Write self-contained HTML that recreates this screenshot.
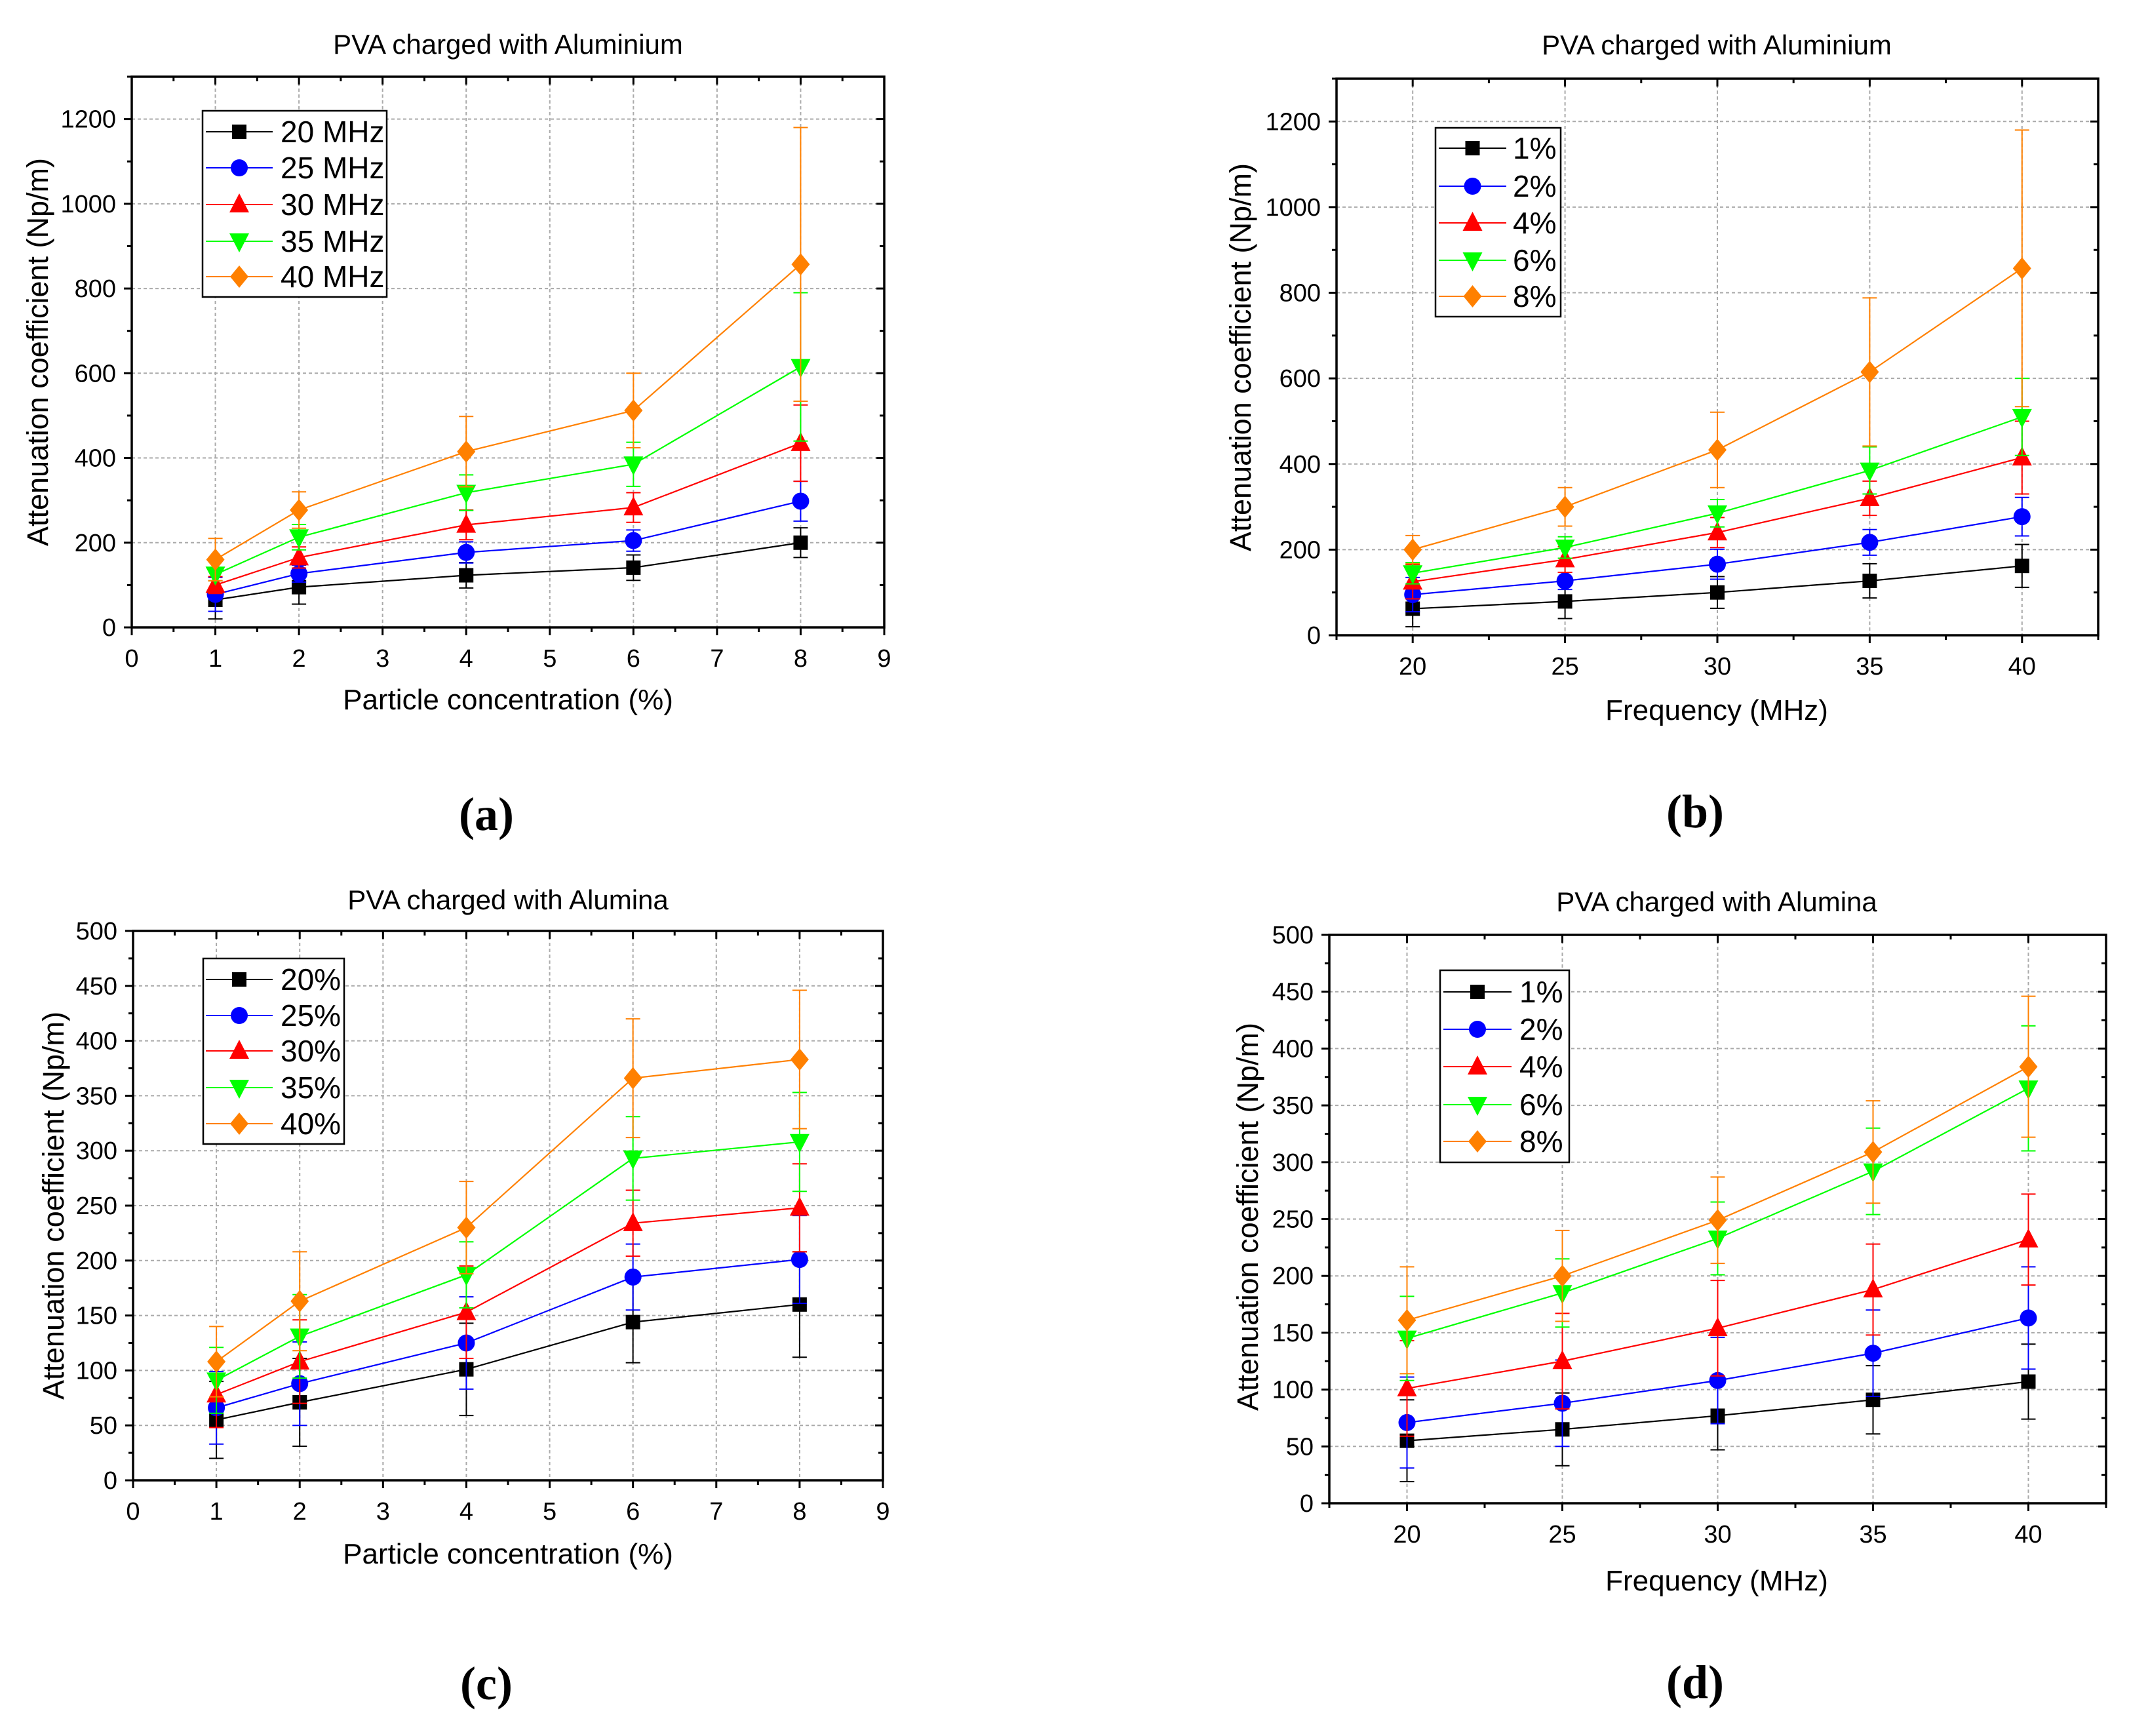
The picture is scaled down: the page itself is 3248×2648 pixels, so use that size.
<!DOCTYPE html>
<html><head><meta charset="utf-8"><style>
html,body{margin:0;padding:0;background:#fff;}
svg{display:block;font-family:"Liberation Sans",Arial,sans-serif;}
</style></head>
<body>
<svg id="fig" xmlns="http://www.w3.org/2000/svg" width="3248" height="2648" viewBox="0 0 3248 2648"></svg>
<script>
// ---- data ----
const concX = [1, 2, 4, 6, 8];
const freqX = [20, 25, 30, 35, 40];
const colors = ["#000000", "#0000ff", "#ff0000", "#00ff00", "#ff8000"];
const markers = ["square", "circle", "triangle", "tridown", "diamond"];

const aNames = ["20 MHz", "25 MHz", "30 MHz", "35 MHz", "40 MHz"];
const aS1 = [65, 95, 123, 141, 200];
const aS2 = [78, 127, 177, 205, 298];
const aS3 = [100, 165, 242, 283, 435];
const aS4 = [125, 213, 318, 385, 615];
const aS5 = [160, 277, 415, 512, 857];
const aE1 = [45, 40, 30, 30, 35];
const aE2 = [40, 20, 25, 25, 47];
const aE3 = [20, 25, 35, 35, 90];
const aE4 = [15, 30, 42, 52, 175];
const aE5 = [50, 43, 83, 88, 323];

const bNames = ["1%", "2%", "4%", "6%", "8%"];
const bS1 = [62, 79, 100, 127, 162];
const bS2 = [95, 127, 166, 217, 277];
const bS3 = [125, 177, 240, 320, 415];
const bS4 = [145, 205, 285, 385, 510];
const bS5 = [200, 300, 433, 615, 857];
const bE1 = [42, 40, 37, 40, 50];
const bE2 = [40, 20, 35, 30, 45];
const bE3 = [40, 30, 35, 40, 85];
const bE4 = [25, 25, 32, 55, 90];
const bE5 = [33, 45, 88, 173, 323];

const cNames = ["20%", "25%", "30%", "35%", "40%"];
const cS1 = [55, 71, 101, 144, 160];
const cS2 = [66, 88, 125, 185, 201];
const cS3 = [78, 108, 153, 234, 248];
const cS4 = [91, 131, 187, 293, 308];
const cS5 = [108, 163, 230, 366, 383];
const cE1 = [35, 40, 42, 37, 48];
const cE2 = [33, 38, 42, 30, 40];
const cE3 = [30, 38, 42, 30, 40];
const cE4 = [30, 38, 30, 38, 45];
const cE5 = [32, 45, 42, 54, 63];

const dNames = ["1%", "2%", "4%", "6%", "8%"];
const dS1 = [55, 65, 77, 91, 107];
const dS2 = [71, 88, 108, 132, 163];
const dS3 = [101, 125, 154, 188, 232];
const dS4 = [145, 185, 233, 292, 365];
const dS5 = [161, 200, 249, 309, 384];
const dE1 = [36, 32, 30, 30, 33];
const dE2 = [40, 38, 38, 38, 45];
const dE3 = [42, 42, 42, 40, 40];
const dE4 = [37, 30, 32, 38, 55];
const dE5 = [47, 40, 38, 45, 62];

const concTicks = [0, 1, 2, 3, 4, 5, 6, 7, 8, 9];
const freqTicks = [20, 25, 30, 35, 40];
const alTicks = [0, 200, 400, 600, 800, 1000, 1200];
const aluTicks = [0, 50, 100, 150, 200, 250, 300, 350, 400, 450, 500];

// ---- drawing ----
const NS = "http://www.w3.org/2000/svg";
const svg = document.getElementById("fig");
function mk(tag, attrs, parent, txt) {
  const e = document.createElementNS(NS, tag);
  for (const k in attrs) e.setAttribute(k, attrs[k]);
  if (txt !== undefined) e.textContent = txt;
  (parent || svg).appendChild(e);
  return e;
}
function markerEl(type, cx, cy, color, g) {
  let e;
  if (type === "square") e = mk("rect", {x: cx - 11, y: cy - 11, width: 22, height: 22, fill: color}, g);
  else if (type === "circle") e = mk("circle", {cx: cx, cy: cy, r: 13, fill: color}, g);
  else if (type === "triangle") e = mk("polygon", {points: `${cx},${cy-17} ${cx+15},${cy+12} ${cx-15},${cy+12}`, fill: color}, g);
  else if (type === "tridown") e = mk("polygon", {points: `${cx},${cy+17} ${cx+15},${cy-12} ${cx-15},${cy-12}`, fill: color}, g);
  else e = mk("polygon", {points: `${cx},${cy-17} ${cx+14},${cy} ${cx},${cy+17} ${cx-14},${cy}`, fill: color}, g);
  return e;
}

function panel(p) {
  const g = mk("g", {});
  
  
  const X = v => p.L + (v - p.xmin) / (p.xmax - p.xmin) * (p.R - p.L);
  const Y = v => p.B - (v - p.ymin) / (p.ymax - p.ymin) * (p.B - p.T);
  p.xticks.forEach(v => { const x = X(v); if (x > p.L + 2 && x < p.R - 2) mk("line", {x1: x, y1: p.T, x2: x, y2: p.B, stroke: "#aaa", "stroke-width": 2, "stroke-dasharray": "5,4"}, g); });
  p.yticks.forEach(v => { const y = Y(v); if (y > p.T + 2 && y < p.B - 2) mk("line", {x1: p.L, y1: y, x2: p.R, y2: y, stroke: "#aaa", "stroke-width": 2, "stroke-dasharray": "5,4"}, g); });
  for (let v = p.xmin; v <= p.xmax + 1e-9; v += p.xminor) {
    const x = X(v);
    const major = p.xticks.some(t => Math.abs(t - v) < 1e-6);
    const len = major ? 12 : 7;
    mk("line", {x1: x, y1: p.B, x2: x, y2: p.B + len, stroke: "#000", "stroke-width": 3}, g);
    mk("line", {x1: x, y1: p.T, x2: x, y2: p.T + len, stroke: "#000", "stroke-width": 3}, g);
  }
  for (let v = p.ymin; v <= p.ymax + 1e-9; v += p.yminor) {
    const y = Y(v);
    const major = p.yticks.some(t => Math.abs(t - v) < 1e-6);
    const len = major ? 12 : 7;
    mk("line", {x1: p.L - len, y1: y, x2: p.L, y2: y, stroke: "#000", "stroke-width": 3}, g);
    mk("line", {x1: p.R - len, y1: y, x2: p.R, y2: y, stroke: "#000", "stroke-width": 3}, g);
  }
  const fr = mk("rect", {x: p.L, y: p.T, width: p.R - p.L, height: p.B - p.T, fill: "none", stroke: "#000", "stroke-width": 3.5}, g);
  
  
  p.xticks.forEach(v => {
    const t = mk("text", {x: X(v), y: p.B + 60, "font-size": 38, "text-anchor": "middle", fill: "#000"}, g, String(v));
    
    
  });
  p.yticks.forEach(v => {
    const t = mk("text", {x: p.L - 24, y: Y(v) + 13, "font-size": 38, "text-anchor": "end", fill: "#000"}, g, String(v));
    
    
  });
  const tt = mk("text", {x: p.titleX, y: p.titleY + 15, "font-size": 42, "text-anchor": "middle"}, g, p.title);
  
  
  const xl = mk("text", {x: p.titleX, y: p.xlabY + 16, "font-size": 44, "text-anchor": "middle"}, g, p.xlabel);
  
  
  const yl = mk("text", {x: 0, y: 0, "font-size": 45, "text-anchor": "middle", transform: `translate(${p.ylabX + 16},${p.ylabY}) rotate(-90)`}, g, "Attenuation coefficient (Np/m)");
  
  
  const pl = mk("text", {x: p.capX, y: p.capY + 24, "font-size": 72, "font-weight": "bold", "text-anchor": "middle", "font-family": "Liberation Serif, serif"}, g, p.caption);
  
  
  p.series.forEach((s, i) => {
    const sg = mk("g", {}, g);
    
    
    const pts = p.xs.map((x, j) => `${X(x)},${Y(s[j])}`).join(" ");
    mk("polyline", {points: pts, fill: "none", stroke: colors[i], "stroke-width": 2.2}, sg);
    p.xs.forEach((x, j) => {
      const cx = X(x), e = p.errs[i][j];
      const y1 = Y(s[j] + e), y2 = Y(Math.max(p.ymin, s[j] - e));
      const eb = mk("path", {d: `M${cx},${y1}V${y2}M${cx-11},${y1}H${cx+11}M${cx-11},${y2}H${cx+11}`, stroke: colors[i], "stroke-width": 2, fill: "none"}, sg);
      
      
    });
    p.xs.forEach((x, j) => {
      const m = markerEl(markers[i], X(x), Y(s[j]), colors[i], sg);
      
      
    });
  });
  const lg = mk("g", {}, g);
  
  
  const lb = p.leg;
  mk("rect", {x: lb.x1, y: lb.y1, width: lb.x2 - lb.x1, height: lb.y2 - lb.y1, fill: "#fff", stroke: "#000", "stroke-width": 2.5}, lg);
  p.names.forEach((n, i) => {
    const y = lb.ys[i];
    const en = mk("g", {}, lg);
    
    
    mk("line", {x1: lb.lx1, y1: y, x2: lb.lx2, y2: y, stroke: colors[i], "stroke-width": 2}, en);
    markerEl(markers[i], (lb.lx1 + lb.lx2) / 2, y, colors[i], en);
    mk("text", {x: lb.tx, y: y + 16, "font-size": 46}, en, n);
  });
}

panel({id: "a", L: 201, R: 1349, T: 117, B: 957, xmin: 0, xmax: 9, ymin: 0, ymax: 1300,
  xticks: concTicks, yticks: alTicks, xminor: 0.5, yminor: 100, xs: concX,
  series: [aS1, aS2, aS3, aS4, aS5], errs: [aE1, aE2, aE3, aE4, aE5], names: aNames,
  title: "PVA charged with Aluminium", xlabel: "Particle concentration (%)", caption: "(a)",
  titleX: 775, titleY: 67, xlabY: 1066, ylabX: 57, ylabY: 537, capX: 742, capY: 1242,
  leg: {x1: 309, y1: 169, x2: 590, y2: 453, ys: [201, 256, 312, 368, 422], lx1: 314, lx2: 416, tx: 428}});

panel({id: "b", L: 2039, R: 3201, T: 120, B: 969, xmin: 17.5, xmax: 42.5, ymin: 0, ymax: 1300,
  xticks: freqTicks, yticks: alTicks, xminor: 2.5, yminor: 100, xs: freqX,
  series: [bS1, bS2, bS3, bS4, bS5], errs: [bE1, bE2, bE3, bE4, bE5], names: bNames,
  title: "PVA charged with Aluminium", xlabel: "Frequency (MHz)", caption: "(b)",
  titleX: 2619, titleY: 68, xlabY: 1082, ylabX: 1892, ylabY: 545, capX: 2586, capY: 1238,
  leg: {x1: 2190, y1: 195, x2: 2381, y2: 483, ys: [226, 284, 340, 397, 452], lx1: 2195, lx2: 2298, tx: 2308}});

panel({id: "c", L: 203, R: 1347, T: 1420, B: 2258, xmin: 0, xmax: 9, ymin: 0, ymax: 500,
  xticks: concTicks, yticks: aluTicks, xminor: 0.5, yminor: 25, xs: concX,
  series: [cS1, cS2, cS3, cS4, cS5], errs: [cE1, cE2, cE3, cE4, cE5], names: cNames,
  title: "PVA charged with Alumina", xlabel: "Particle concentration (%)", caption: "(c)",
  titleX: 775, titleY: 1372, xlabY: 2369, ylabX: 81, ylabY: 1839, capX: 742, capY: 2568,
  leg: {x1: 310, y1: 1462, x2: 525, y2: 1745, ys: [1494, 1549, 1603, 1659, 1714], lx1: 314, lx2: 416, tx: 428}});

panel({id: "d", L: 2028, R: 3213, T: 1426, B: 2293, xmin: 17.5, xmax: 42.5, ymin: 0, ymax: 500,
  xticks: freqTicks, yticks: aluTicks, xminor: 2.5, yminor: 25, xs: freqX,
  series: [dS1, dS2, dS3, dS4, dS5], errs: [dE1, dE2, dE3, dE4, dE5], names: dNames,
  title: "PVA charged with Alumina", xlabel: "Frequency (MHz)", caption: "(d)",
  titleX: 2619, titleY: 1375, xlabY: 2410, ylabX: 1903, ylabY: 1856, capX: 2586, capY: 2566,
  leg: {x1: 2197, y1: 1480, x2: 2394, y2: 1773, ys: [1513, 1570, 1627, 1685, 1741], lx1: 2202, lx2: 2306, tx: 2318}});
</script>
</body></html>
